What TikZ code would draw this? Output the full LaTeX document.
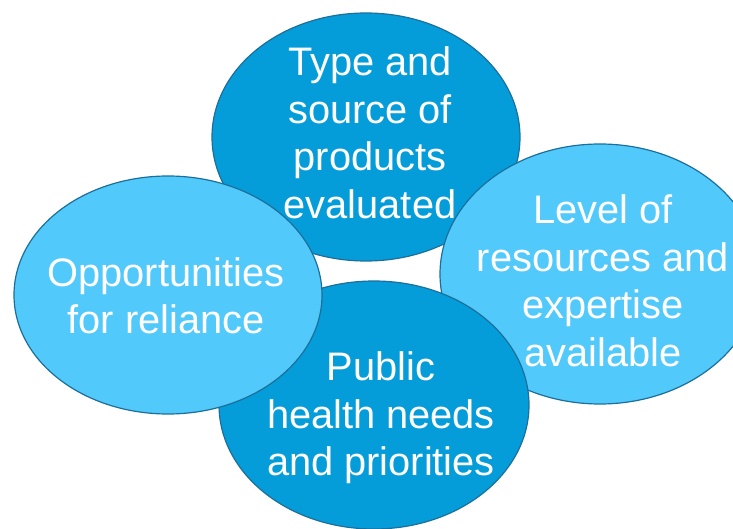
\documentclass[tikz,border=0pt]{standalone}
\usepackage{fontspec}
\setmainfont{Liberation Sans}
\usetikzlibrary{shapes.geometric}
\definecolor{darkblue}{HTML}{049DDA}
\definecolor{lightblue}{HTML}{52C9FB}
\definecolor{rimblue}{HTML}{1C6F9A}
\tikzstyle{bubble} = [ellipse, draw = rimblue, line width = 1.2pt, inner sep = 0pt]
\tikzstyle{darkbubble} = [bubble, fill = darkblue]
\tikzstyle{lightbubble} = [bubble, fill = lightblue]
\tikzstyle{caption} = [text = white, align = center, inner sep = 0pt, font = \fontsize{39.8}{47.5}\selectfont]

\begin{document}
\begin{tikzpicture}[x = 1pt, y = -1pt]
\useasboundingbox (0,0) rectangle (733,529);
\clip (0,0) rectangle (733,529);

\node(products) [darkbubble, minimum width = 308pt, minimum height = 248pt] at (366,137) {};
\node(productstext) [caption] at (370,133) {Type and\\source of\\products\\evaluated};

\node(resources) [lightbubble, minimum width = 320pt, minimum height = 260pt] at (600,274) {};
\node(resourcestext) [caption] at (603,281) {Level of\\resources and\\expertise\\available};

\node(health) [darkbubble, minimum width = 310pt, minimum height = 248pt] at (374,405) {};
\node(healthtext) [caption] at (381,418) {Public\\health needs\\and priorities};

\node(reliance) [lightbubble, minimum width = 308pt, minimum height = 238pt] at (168,295) {};
\node(reliancetext) [caption] at (166,296) {Opportunities\\for reliance};

\end{tikzpicture}
\end{document}
